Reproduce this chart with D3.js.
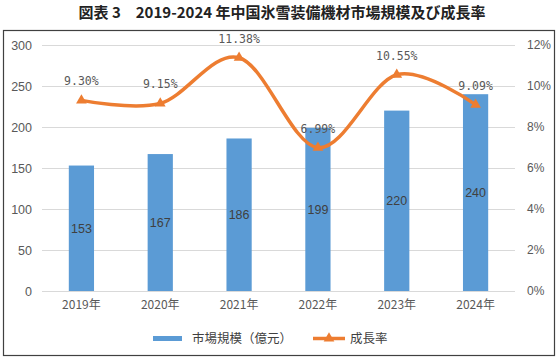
<!DOCTYPE html>
<html><head><meta charset="utf-8">
<script src="https://cdn.jsdelivr.net/npm/d3@7"></script>
<style>
html,body{margin:0;padding:0;background:#fff;}
svg{display:block;}
</style></head>
<body>
<svg id="c" width="560" height="361"></svg>
<script>
const categories = ["2019年","2020年","2021年","2022年","2023年","2024年"];
const marketSize = [153,167,186,199,220,240];
const growthRate = [9.30,9.15,11.38,6.99,10.55,9.09];
const leftTicks = [0,50,100,150,200,250,300];
const rightTicks = [0,2,4,6,8,10,12];
const title = "図表 3　2019-2024 年中国氷雪装備機材市場規模及び成長率";
const legendLabels = ["市場規模（億元）","成長率"];

const svg = d3.select("#c");
const pL=42,pR=515,pT=45,pB=291;
const cjk = "'Noto Sans CJK JP','Noto Sans CJK SC',sans-serif";
const orange="#ED7D31", blue="#5B9BD5";

svg.append("rect").attr("x",3.5).attr("y",30.5).attr("width",551).attr("height",325)
  .attr("fill","#fff").attr("stroke","#404040").attr("stroke-width",1.2);

svg.append("text").attr("x",282).attr("y",18).attr("text-anchor","middle")
  .attr("font-family",cjk).attr("font-weight","bold").attr("font-size",15)
  .attr("fill","#222").text(title);

const x = d3.scaleBand().domain(categories).range([pL,pR]).paddingInner(0.68).paddingOuter(0.34);
const yL = d3.scaleLinear().domain([0,300]).range([pB,pT]);
const yR = d3.scaleLinear().domain([0,12]).range([pB,pT]);

// gridlines
svg.append("g").selectAll("line").data(leftTicks).join("line")
  .attr("x1",pL).attr("x2",pR).attr("y1",d=>Math.round(yL(d))+0.5).attr("y2",d=>Math.round(yL(d))+0.5)
  .attr("stroke","#d9d9d9").attr("stroke-width",1);

// left axis labels
const gL = svg.append("g").attr("transform",`translate(${pL},0)`)
  .call(d3.axisLeft(yL).tickValues(leftTicks).tickSize(0).tickPadding(10));
gL.select(".domain").remove();
gL.selectAll("text").attr("font-family","'Liberation Sans',Arial,sans-serif").attr("font-size",12.5).attr("fill","#595959");

// right axis labels
const gR = svg.append("g").attr("transform",`translate(${pR},0)`)
  .call(d3.axisRight(yR).tickValues(rightTicks).tickSize(0).tickPadding(12).tickFormat(d=>d+"%"));
gR.select(".domain").remove();
gR.selectAll("text").attr("font-family","'Liberation Sans',Arial,sans-serif").attr("font-size",12).attr("fill","#595959");

// x axis labels
const gX = svg.append("g").attr("transform",`translate(0,${pB})`)
  .call(d3.axisBottom(x).tickSize(0).tickPadding(9));
gX.select(".domain").remove();
gX.selectAll("text").attr("font-family",cjk).attr("font-size",12).attr("fill","#595959");

// bars
svg.append("g").selectAll("rect").data(marketSize).join("rect")
  .attr("x",(d,i)=>x(categories[i])).attr("width",x.bandwidth())
  .attr("y",d=>yL(d)).attr("height",d=>yL(0)-yL(d)).attr("fill",blue);

// bar labels
svg.append("g").selectAll("text").data(marketSize).join("text")
  .attr("x",(d,i)=>x(categories[i])+x.bandwidth()/2)
  .attr("y",d=>(yL(d)+yL(0))/2+4.5).attr("text-anchor","middle")
  .attr("font-family","'Liberation Sans',Arial,sans-serif").attr("font-size",12.5).attr("fill","#404040")
  .text(d=>d);

// line
const cx = (i)=>x(categories[i])+x.bandwidth()/2;
const line = d3.line().x((d,i)=>cx(i)).y(d=>yR(d)).curve(d3.curveCardinal.tension(0));
svg.append("path").datum(growthRate).attr("d",line).attr("fill","none")
  .attr("stroke",orange).attr("stroke-width",3.5).attr("stroke-linecap","round");

const tri = d3.symbol().type(d3.symbolTriangle).size(50);
svg.append("g").selectAll("path").data(growthRate).join("path")
  .attr("d",tri).attr("transform",(d,i)=>`translate(${cx(i)},${yR(d)})`).attr("fill",orange);

// line labels
svg.append("g").selectAll("text").data(growthRate).join("text")
  .attr("x",(d,i)=>cx(i)).attr("y",d=>yR(d)-15).attr("text-anchor","middle")
  .attr("font-family","'DejaVu Sans Mono','Liberation Mono',monospace").attr("font-size",11.5).attr("fill","#595959")
  .text(d=>d.toFixed(2)+"%");

// legend
const lg = svg.append("g");
lg.append("rect").attr("x",153).attr("y",336).attr("width",29).attr("height",5).attr("fill",blue);
lg.append("text").attr("x",192).attr("y",343).attr("font-family",cjk).attr("font-size",12.5).attr("fill","#404040").text(legendLabels[0]);
lg.append("line").attr("x1",313).attr("x2",345).attr("y1",338.5).attr("y2",338.5).attr("stroke",orange).attr("stroke-width",3.5);
lg.append("path").attr("d",tri).attr("transform","translate(329,338.5)").attr("fill",orange);
lg.append("text").attr("x",350).attr("y",343).attr("font-family",cjk).attr("font-size",12.5).attr("fill","#404040").text(legendLabels[1]);
</script>
</body></html>
